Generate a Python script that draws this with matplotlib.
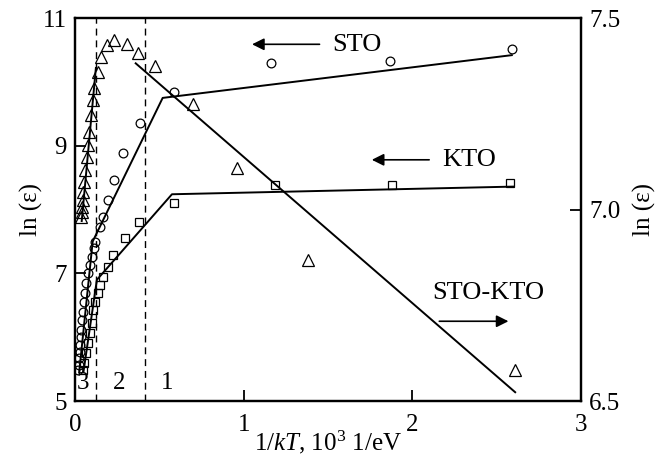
import numpy as np
import matplotlib.pyplot as plt

plt.rcParams['font.family'] = ['Liberation Serif', 'DejaVu Serif']
plt.rcParams['mathtext.fontset'] = 'custom'
plt.rcParams['mathtext.rm'] = 'Liberation Serif'
plt.rcParams['mathtext.it'] = 'Liberation Serif:italic'
plt.rcParams['font.size'] = 18

# STO (circles, left axis)
sto_x = [0.018, 0.021, 0.024, 0.027, 0.030, 0.033, 0.036, 0.041, 0.047, 0.053, 0.059, 0.065, 0.077,
         0.092, 0.100, 0.110, 0.120, 0.148, 0.166, 0.195, 0.230, 0.285, 0.385, 0.587, 1.16, 1.87, 2.59]
sto_y = [5.49, 5.56, 5.67, 5.77, 5.88, 6.00, 6.11, 6.27, 6.39, 6.55, 6.69, 6.85, 7.00,
         7.13, 7.26, 7.40, 7.49, 7.72, 7.88, 8.15, 8.46, 8.88, 9.36, 9.84, 10.30, 10.33, 10.51]
sto_fit_x = [0.025, 0.105, 0.52, 2.59]
sto_fit_y = [5.45, 7.50, 9.75, 10.42]

# KTO (squares, left axis)
kto_x = [0.047, 0.053, 0.065, 0.077, 0.089, 0.101, 0.107, 0.119, 0.136, 0.148, 0.166, 0.196, 0.225,
         0.296, 0.379, 0.587, 1.185, 1.88, 2.58]
kto_y = [5.49, 5.60, 5.75, 5.91, 6.07, 6.22, 6.43, 6.55, 6.69, 6.82, 6.94, 7.10, 7.29,
         7.55, 7.80, 8.10, 8.38, 8.38, 8.42]
kto_fit_x = [0.05, 0.13, 0.575, 2.60]
kto_fit_y = [5.45, 6.90, 8.24, 8.36]

# STO-KTO (triangles, right axis)
mix_x = [0.036, 0.041, 0.041, 0.047, 0.047, 0.053, 0.059, 0.071, 0.077, 0.083, 0.095, 0.107, 0.113,
         0.136, 0.154, 0.19, 0.23, 0.31, 0.375, 0.474, 0.70, 0.96, 1.38, 2.61]
mix_y = [6.980, 6.993, 7.007, 7.025, 7.046, 7.072, 7.103, 7.137, 7.168, 7.202, 7.247, 7.286, 7.317,
         7.359, 7.398, 7.430, 7.443, 7.432, 7.410, 7.375, 7.275, 7.108, 6.868, 6.581]
mix_fit1_x = [0.04, 0.124]
mix_fit1_y = [6.97, 7.37]
mix_fit2_x = [0.36, 2.61]
mix_fit2_y = [7.382, 6.523]

regions_x = [0.125, 0.415]

fig = plt.figure(figsize=(6.67, 4.65), dpi=100)
ax = fig.add_axes([0.1124, 0.1376, 0.7586, 0.8234])
ax2 = ax.twinx()

ax.plot(sto_fit_x, sto_fit_y, color='black', lw=1.4)
ax.plot(sto_x, sto_y, 'o', mfc='none', mec='black', ms=6.3, mew=0.9)
ax.plot(kto_fit_x, kto_fit_y, color='black', lw=1.4)
ax.plot(kto_x, kto_y, 's', mfc='none', mec='black', ms=6.3, mew=0.9)
ax2.plot(mix_fit1_x, mix_fit1_y, color='black', lw=1.4)
ax2.plot(mix_fit2_x, mix_fit2_y, color='black', lw=1.4)
ax2.plot(mix_x, mix_y, '^', mfc='none', mec='black', ms=8.5, mew=0.9)

for xv in regions_x:
    ax.axvline(xv, color='black', lw=1.0, ls=(0, (5, 3.5)))

ax.set_xlim(0, 3)
ax.set_ylim(5, 11)
ax2.set_ylim(6.5, 7.5)
ax.set_xticks([0, 1, 2, 3])
ax.set_yticks([5, 7, 9, 11])
ax2.set_yticks([6.5, 7.0, 7.5])
ax2.set_yticklabels(['6.5', '7.0', '7.5'])

for a in (ax, ax2):
    a.tick_params(direction='in', length=8, width=1.3, labelsize=18, pad=6)
    for s in a.spines.values():
        s.set_linewidth(1.6)
ax.tick_params(axis='x', pad=9)

ax.set_xlabel('1/$kT$, 10$^3$ 1/eV', fontsize=18, labelpad=-5)
ax.set_ylabel('ln (ε)', fontsize=18, labelpad=0)
ax2.set_ylabel('ln (ε)', fontsize=18, labelpad=9)

ax.text(0.047, 5.28, '3', ha='center', va='center', fontsize=18)
ax.text(0.26, 5.28, '2', ha='center', va='center', fontsize=18)
ax.text(0.545, 5.28, '1', ha='center', va='center', fontsize=18)

arrow = dict(arrowstyle='-|>', color='black', lw=1.2, mutation_scale=18, shrinkA=0, shrinkB=0)
ax.text(1.67, 10.58, 'STO', ha='center', va='center', fontsize=19)
ax.annotate('', xy=(1.05, 10.59), xytext=(1.45, 10.59), arrowprops=arrow)
ax.text(2.34, 8.78, 'KTO', ha='center', va='center', fontsize=19)
ax.annotate('', xy=(1.76, 8.78), xytext=(2.10, 8.78), arrowprops=arrow)
ax.text(2.45, 6.69, 'STO-KTO', ha='center', va='center', fontsize=19)
ax.annotate('', xy=(2.57, 6.25), xytext=(2.16, 6.25), arrowprops=arrow)

fig.savefig('out.png', dpi=100)
